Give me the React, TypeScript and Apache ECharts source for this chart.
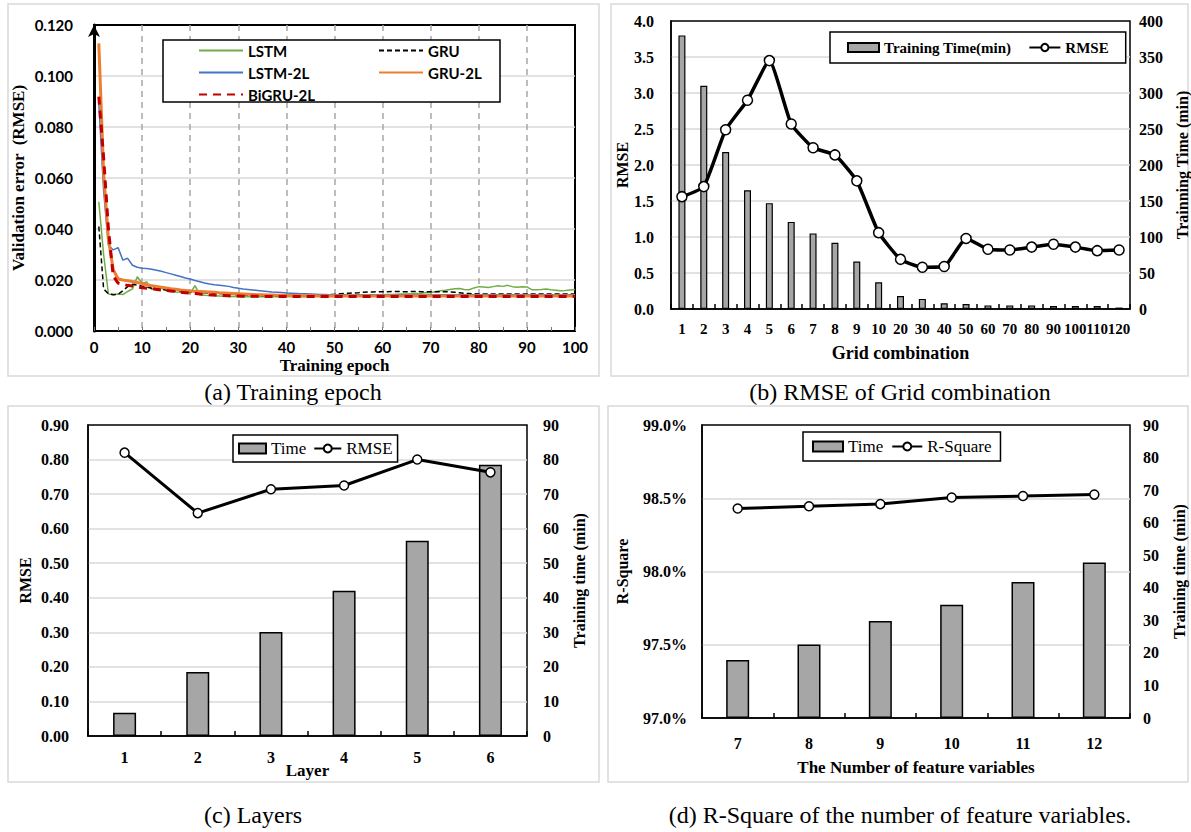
import React, { useEffect, useRef } from 'react';
import * as echarts from 'echarts';

// ---------- (a) Training epoch ----------
const epochLSTM = [
  0.0507, 0.0300, 0.0145, 0.0143, 0.0145, 0.0143, 0.0155, 0.0165, 0.0213, 0.0187,
  0.0192, 0.0162, 0.0176, 0.0168, 0.0158, 0.0155, 0.0153, 0.0152, 0.0150, 0.0148,
  0.0178, 0.0142, 0.0140, 0.0139, 0.0138, 0.0137, 0.0136, 0.0135, 0.0136, 0.0134,
  0.0135, 0.0134, 0.0135, 0.0134, 0.0134, 0.0135, 0.0134, 0.0134, 0.0135, 0.0134,
  0.0134, 0.0135, 0.0134, 0.0135, 0.0134, 0.0135, 0.0135, 0.0134, 0.0135, 0.0135,
  0.0136, 0.0137, 0.0137, 0.0138, 0.0139, 0.0140, 0.0140, 0.0141, 0.0142, 0.0142,
  0.0143, 0.0143, 0.0144, 0.0145, 0.0145, 0.0146, 0.0147, 0.0148, 0.0150, 0.0151,
  0.0154, 0.0158, 0.0160, 0.0163, 0.0166, 0.0167, 0.0163, 0.0162, 0.0169, 0.0174,
  0.0173, 0.0171, 0.0174, 0.0177, 0.0175, 0.0179, 0.0174, 0.0172, 0.0174, 0.0173,
  0.0162, 0.0162, 0.0163, 0.0165, 0.0162, 0.0160, 0.0158, 0.0159, 0.0161, 0.0163,
];
const epochGRU = [
  0.0410, 0.0165, 0.0146, 0.0142, 0.0144, 0.0158, 0.0174, 0.0183, 0.0180, 0.0176,
  0.0172, 0.0168, 0.0166, 0.0163, 0.0161, 0.0160, 0.0158, 0.0157, 0.0155, 0.0154,
  0.0153, 0.0151, 0.0150, 0.0149, 0.0148, 0.0147, 0.0146, 0.0145, 0.0144, 0.0142,
  0.0141, 0.0141, 0.0140, 0.0140, 0.0139, 0.0139, 0.0138, 0.0138, 0.0138, 0.0137,
  0.0137, 0.0137, 0.0138, 0.0138, 0.0139, 0.0140, 0.0141, 0.0142, 0.0143, 0.0144,
  0.0146, 0.0147, 0.0148, 0.0149, 0.0150, 0.0152, 0.0153, 0.0153, 0.0154, 0.0154,
  0.0154, 0.0155, 0.0155, 0.0154, 0.0154, 0.0155, 0.0155, 0.0154, 0.0154, 0.0154,
  0.0154, 0.0154, 0.0154, 0.0153, 0.0152, 0.0150, 0.0148, 0.0147, 0.0146, 0.0145,
  0.0145, 0.0145, 0.0145, 0.0145, 0.0145, 0.0145, 0.0145, 0.0145, 0.0145, 0.0145,
  0.0145, 0.0145, 0.0145, 0.0145, 0.0145, 0.0145, 0.0145, 0.0145, 0.0145, 0.0145,
];
const epochLSTM2L = [
  0.0894, 0.0550, 0.0337, 0.0318, 0.0327, 0.0278, 0.0285, 0.0258, 0.0250, 0.0246,
  0.0245, 0.0242, 0.0238, 0.0234, 0.0229, 0.0224, 0.0219, 0.0214, 0.0208, 0.0204,
  0.0198, 0.0193, 0.0188, 0.0184, 0.0181, 0.0179, 0.0177, 0.0175, 0.0171, 0.0168,
  0.0165, 0.0163, 0.0161, 0.0159, 0.0157, 0.0155, 0.0153, 0.0152, 0.0151, 0.0149,
  0.0148, 0.0147, 0.0146, 0.0146, 0.0145, 0.0144, 0.0143, 0.0143, 0.0142, 0.0142,
  0.0142, 0.0142, 0.0141, 0.0141, 0.0142, 0.0141, 0.0141, 0.0141, 0.0142, 0.0141,
  0.0141, 0.0141, 0.0141, 0.0142, 0.0141, 0.0141, 0.0141, 0.0141, 0.0141, 0.0142,
  0.0142, 0.0142, 0.0142, 0.0142, 0.0142, 0.0142, 0.0142, 0.0142, 0.0142, 0.0142,
  0.0142, 0.0142, 0.0142, 0.0142, 0.0142, 0.0142, 0.0142, 0.0142, 0.0142, 0.0142,
  0.0142, 0.0142, 0.0142, 0.0142, 0.0142, 0.0142, 0.0142, 0.0142, 0.0142, 0.0142,
];
const epochGRU2L = [
  0.1128, 0.0620, 0.0360, 0.0240, 0.0205, 0.0200, 0.0197, 0.0194, 0.0190, 0.0186,
  0.0181, 0.0178, 0.0175, 0.0172, 0.0169, 0.0166, 0.0164, 0.0161, 0.0159, 0.0157,
  0.0156, 0.0155, 0.0154, 0.0153, 0.0152, 0.0150, 0.0149, 0.0148, 0.0147, 0.0146,
  0.0145, 0.0144, 0.0143, 0.0142, 0.0142, 0.0141, 0.0141, 0.0140, 0.0140, 0.0139,
  0.0139, 0.0139, 0.0138, 0.0138, 0.0138, 0.0138, 0.0137, 0.0137, 0.0137, 0.0137,
  0.0137, 0.0137, 0.0137, 0.0137, 0.0137, 0.0137, 0.0137, 0.0137, 0.0137, 0.0137,
  0.0137, 0.0137, 0.0137, 0.0137, 0.0137, 0.0137, 0.0137, 0.0137, 0.0137, 0.0137,
  0.0137, 0.0137, 0.0137, 0.0137, 0.0137, 0.0137, 0.0137, 0.0137, 0.0137, 0.0137,
  0.0137, 0.0137, 0.0137, 0.0137, 0.0137, 0.0137, 0.0137, 0.0137, 0.0137, 0.0137,
  0.0137, 0.0137, 0.0137, 0.0137, 0.0137, 0.0137, 0.0137, 0.0137, 0.0137, 0.0137,
];
const epochBiGRU2L = [
  0.0919, 0.0680, 0.0400, 0.0215, 0.0188, 0.0183, 0.0179, 0.0176, 0.0173, 0.0170,
  0.0168, 0.0166, 0.0163, 0.0161, 0.0159, 0.0157, 0.0155, 0.0152, 0.0150, 0.0148,
  0.0147, 0.0145, 0.0144, 0.0142, 0.0141, 0.0140, 0.0139, 0.0138, 0.0137, 0.0137,
  0.0136, 0.0136, 0.0136, 0.0136, 0.0135, 0.0135, 0.0135, 0.0135, 0.0135, 0.0135,
  0.0135, 0.0135, 0.0135, 0.0135, 0.0135, 0.0135, 0.0135, 0.0135, 0.0135, 0.0135,
  0.0135, 0.0135, 0.0135, 0.0135, 0.0135, 0.0135, 0.0135, 0.0135, 0.0135, 0.0135,
  0.0135, 0.0135, 0.0135, 0.0135, 0.0135, 0.0135, 0.0135, 0.0135, 0.0135, 0.0135,
  0.0135, 0.0135, 0.0135, 0.0135, 0.0135, 0.0135, 0.0135, 0.0135, 0.0135, 0.0135,
  0.0135, 0.0135, 0.0135, 0.0135, 0.0135, 0.0135, 0.0135, 0.0135, 0.0135, 0.0135,
  0.0135, 0.0135, 0.0135, 0.0135, 0.0135, 0.0135, 0.0135, 0.0135, 0.0135, 0.0135,
];

// ---------- (b) Grid combination ----------
const gridCats = ['1', '2', '3', '4', '5', '6', '7', '8', '9', '10', '20', '30', '40', '50', '60', '70', '80', '90', '100', '110', '120'];
const gridTime = [380, 310, 218, 165, 147, 121, 105, 92, 66, 37, 18, 14, 8, 7, 5, 5, 5, 4, 4, 4, 2];
const gridRmse = [1.56, 1.70, 2.49, 2.90, 3.45, 2.57, 2.24, 2.14, 1.78, 1.06, 0.69, 0.58, 0.59, 0.98, 0.83, 0.82, 0.86, 0.90, 0.86, 0.81, 0.82];

// ---------- (c) Layers ----------
const layerCats = ['1', '2', '3', '4', '5', '6'];
const layerTime = [6.7, 18.5, 30.1, 42.0, 56.5, 78.5];
const layerRmse = [0.820, 0.645, 0.714, 0.725, 0.800, 0.763];

// ---------- (d) Feature variables ----------
const featCats = ['7', '8', '9', '10', '11', '12'];
const featTime = [17.8, 22.6, 29.8, 34.8, 41.8, 47.8];
const featRsq = [98.43, 98.445, 98.46, 98.505, 98.515, 98.525];

const SERIF = 'Liberation Serif';
const SANS = 'Lato';

const serifBold = (size: number) => ({ fontFamily: SERIF, fontWeight: 'bold' as const, fontSize: size, color: '#000' });

export default function App() {
  const ref = useRef<HTMLDivElement>(null);

  useEffect(() => {
    if (!ref.current) return;
    const chart = echarts.init(ref.current, undefined, { renderer: 'svg' });

    const toPairs = (arr: number[]) => arr.map((v, i) => [i + 1, v]);

    const catAxis = (gridIndex: number, data: string[], labelSize: number, margin: number, name: string, nameGap: number, nameSize: number) => ({
      type: 'category',
      gridIndex,
      data,
      axisLine: { show: true, lineStyle: { color: '#000', width: 1.5 } },
      axisTick: { show: true, inside: true, length: 5, alignWithLabel: false, lineStyle: { color: '#000', width: 1.5 } },
      axisLabel: { interval: 0, hideOverlap: false, margin, ...serifBold(labelSize) },
      splitLine: { show: false },
      name,
      nameLocation: 'middle',
      nameGap,
      nameMoveOverlap: false,
      nameTextStyle: serifBold(nameSize),
    });

    const leftAxis = (gridIndex: number, min: number, max: number, interval: number, fmt: (v: number) => string, margin: number, name: string, nameGap: number) => ({
      type: 'value',
      gridIndex,
      min,
      max,
      interval,
      position: 'left',
      axisLine: { show: true, lineStyle: { color: '#000', width: 1.5 } },
      axisTick: { show: false },
      axisLabel: { formatter: fmt, margin, ...serifBold(16) },
      splitLine: { show: true, showMinLine: false, showMaxLine: false, lineStyle: { color: '#d9d9d9', width: 1.5 } },
      name,
      nameLocation: 'middle',
      nameGap,
      nameRotate: 90,
      nameMoveOverlap: false,
      nameTextStyle: serifBold(16),
    });

    const rightAxis = (gridIndex: number, max: number, interval: number, margin: number, name: string, nameGap: number) => ({
      type: 'value',
      gridIndex,
      min: 0,
      max,
      interval,
      position: 'right',
      axisLine: { show: false },
      axisTick: { show: false },
      axisLabel: { margin, ...serifBold(16) },
      splitLine: { show: false },
      name,
      nameLocation: 'middle',
      nameGap,
      nameRotate: 90,
      nameMoveOverlap: false,
      nameTextStyle: serifBold(16),
    });

    const barStyle = { color: '#a6a6a6', borderColor: '#000', borderWidth: 1.2 };
    const dotLine = (width: number) => ({
      symbol: 'circle',
      lineStyle: { color: '#000', width },
      itemStyle: { color: '#fff', borderColor: '#000', borderWidth: 1.5 },
      z: 4,
    });

    const panelRect = (x: number, y: number, w: number, h: number) => ({
      type: 'rect',
      shape: { x, y, width: w, height: h },
      style: { fill: 'none', stroke: '#d9d9d9', lineWidth: 1.5 },
      z: 0,
      silent: true,
    });
    const caption = (x: number, y: number, text: string) => ({
      type: 'text',
      x,
      y,
      style: { text, fontFamily: SERIF, fontSize: 24, fill: '#000', textAlign: 'center', textVerticalAlign: 'middle' },
      silent: true,
    });

    const legendA = (data: string[], left: number) => ({
      data,
      orient: 'vertical',
      left,
      top: 43,
      padding: 0,
      itemWidth: 44,
      itemHeight: 14,
      itemGap: 7,
      selectedMode: false,
      itemStyle: { color: 'transparent', borderWidth: 0, opacity: 0 },
      textStyle: { fontFamily: SANS, fontWeight: 'bold', fontSize: 15, color: '#000' },
      z: 6,
    });

    const option: any = {
      animation: false,
      backgroundColor: '#fff',
      grid: [
        { left: 94, top: 25, width: 481, height: 306, show: true, borderColor: '#000', borderWidth: 2 },
        { left: 671, top: 21, width: 460, height: 288, show: true, borderColor: '#000', borderWidth: 1.5 },
        { left: 88, top: 425, width: 439, height: 311, show: true, borderColor: '#000', borderWidth: 1.5 },
        { left: 702, top: 425, width: 428, height: 293, show: true, borderColor: '#000', borderWidth: 1.5 },
      ],
      xAxis: [
        {
          type: 'value',
          gridIndex: 0,
          min: 0,
          max: 100,
          interval: 10,
          axisLine: { show: true, lineStyle: { color: '#000', width: 2 } },
          axisTick: { show: true, inside: true, length: 4, lineStyle: { color: '#777' } },
          minorTick: { show: true, splitNumber: 2, length: 4, lineStyle: { color: '#777' } },
          axisLabel: { margin: 8, fontFamily: SANS, fontWeight: 'bold', fontSize: 15, color: '#000' },
          splitLine: { show: true, showMinLine: false, showMaxLine: false, lineStyle: { color: '#a6a6a6', type: [6, 5], width: 1.5 } },
          name: 'Training epoch',
          nameLocation: 'middle',
          nameGap: 26,
          nameMoveOverlap: false,
          nameTextStyle: serifBold(17),
        },
        catAxis(1, gridCats, 15, 12, 'Grid combination', 35, 18),
        catAxis(2, layerCats, 16, 13, 'Layer', 26, 17),
        catAxis(3, featCats, 16, 17, 'The Number of feature variables', 41, 17),
      ],
      yAxis: [
        {
          type: 'value',
          gridIndex: 0,
          min: 0,
          max: 0.12,
          interval: 0.02,
          axisLine: { show: true, symbol: ['none', 'arrow'], symbolSize: [9, 12], lineStyle: { color: '#000', width: 3 } },
          axisTick: { show: false },
          axisLabel: { formatter: (v: number) => v.toFixed(3), margin: 21, fontFamily: SANS, fontWeight: 'bold', fontSize: 15, color: '#000' },
          splitLine: { show: true, showMinLine: false, showMaxLine: false, lineStyle: { color: '#d9d9d9', width: 1.5 } },
          name: 'Validation error  (RMSE)',
          nameLocation: 'middle',
          nameGap: 67,
          nameRotate: 90,
          nameMoveOverlap: false,
          nameTextStyle: serifBold(17),
        },
        leftAxis(1, 0, 4, 0.5, (v: number) => v.toFixed(1), 17, 'RMSE', 41),
        rightAxis(1, 400, 50, 9, 'Trainning Time (min)', 44),
        leftAxis(2, 0, 0.9, 0.1, (v: number) => v.toFixed(2), 19, 'RMSE', 55),
        rightAxis(2, 90, 10, 16, 'Training time (min)', 44),
        leftAxis(3, 97, 99, 0.5, (v: number) => v.toFixed(1) + '%', 15, 'R-Square', 72),
        rightAxis(3, 90, 10, 13, 'Training time (min)', 41),
      ],
      legend: [
        legendA(['LSTM', 'LSTM-2L', 'BiGRU-2L'], 198),
        legendA(['GRU', 'GRU-2L'], 378),
        {
          data: [{ name: 'b:Training Time(min)', icon: 'rect' }, 'b:RMSE'],
          formatter: (n: string) => n.slice(2),
          left: 830,
          top: 32,
          padding: [8, 17],
          borderColor: '#000',
          borderWidth: 1.5,
          backgroundColor: '#fff',
          itemWidth: 31,
          itemHeight: 9,
          itemGap: 17,
          selectedMode: false,
          textStyle: serifBold(15),
          z: 6,
        },
        {
          data: [{ name: 'c:Time', icon: 'rect' }, 'c:RMSE'],
          formatter: (n: string) => n.slice(2),
          left: 233,
          top: 435,
          padding: [5, 5],
          borderColor: '#000',
          borderWidth: 1.5,
          backgroundColor: '#fff',
          itemWidth: 27,
          itemHeight: 10,
          itemGap: 7,
          selectedMode: false,
          textStyle: { fontFamily: SERIF, fontSize: 17, color: '#000' },
          z: 6,
        },
        {
          data: [{ name: 'd:Time', icon: 'rect' }, 'd:R-Square'],
          formatter: (n: string) => n.slice(2),
          left: 803,
          top: 432,
          padding: [6, 9],
          borderColor: '#000',
          borderWidth: 1.5,
          backgroundColor: '#fff',
          itemWidth: 30,
          itemHeight: 10,
          itemGap: 8,
          selectedMode: false,
          textStyle: { fontFamily: SERIF, fontSize: 17, color: '#000' },
          z: 6,
        },
      ],
      series: [
        { type: 'line', name: 'LSTM', xAxisIndex: 0, yAxisIndex: 0, data: toPairs(epochLSTM), symbol: 'none', lineStyle: { color: '#70ad47', width: 1.5 }, itemStyle: { color: '#70ad47' } },
        { type: 'line', name: 'GRU', xAxisIndex: 0, yAxisIndex: 0, data: toPairs(epochGRU), symbol: 'none', lineStyle: { color: '#000', width: 1.5, type: [5, 3] }, itemStyle: { color: '#000' } },
        { type: 'line', name: 'LSTM-2L', xAxisIndex: 0, yAxisIndex: 0, data: toPairs(epochLSTM2L), symbol: 'none', lineStyle: { color: '#4472c4', width: 1.5 }, itemStyle: { color: '#4472c4' } },
        { type: 'line', name: 'GRU-2L', xAxisIndex: 0, yAxisIndex: 0, data: toPairs(epochGRU2L), symbol: 'none', lineStyle: { color: '#ed7d31', width: 3 }, itemStyle: { color: '#ed7d31' } },
        { type: 'line', name: 'BiGRU-2L', xAxisIndex: 0, yAxisIndex: 0, data: toPairs(epochBiGRU2L), symbol: 'none', lineStyle: { color: '#c00000', width: 3, type: [8, 6] }, itemStyle: { color: '#c00000' } },

        { type: 'bar', name: 'b:Training Time(min)', xAxisIndex: 1, yAxisIndex: 2, data: gridTime, barWidth: 7, itemStyle: barStyle },
        { type: 'line', name: 'b:RMSE', xAxisIndex: 1, yAxisIndex: 1, data: gridRmse, symbolSize: 10, smooth: 0.15, ...dotLine(3.5) },

        { type: 'bar', name: 'c:Time', xAxisIndex: 2, yAxisIndex: 4, data: layerTime, barWidth: 23, itemStyle: { ...barStyle, borderWidth: 1.5 } },
        { type: 'line', name: 'c:RMSE', xAxisIndex: 2, yAxisIndex: 3, data: layerRmse, symbolSize: 9, ...dotLine(3) },

        { type: 'bar', name: 'd:Time', xAxisIndex: 3, yAxisIndex: 6, data: featTime, barWidth: 23, itemStyle: { ...barStyle, borderWidth: 1.5 } },
        { type: 'line', name: 'd:R-Square', xAxisIndex: 3, yAxisIndex: 5, data: featRsq, symbolSize: 9, ...dotLine(3) },
      ],
      graphic: [
        panelRect(8, 4, 591, 372),
        panelRect(611, 4, 577, 372),
        panelRect(8, 406, 591, 376),
        panelRect(608, 406, 580, 376),
        {
          type: 'rect',
          shape: { x: 163, y: 40, width: 337, height: 62 },
          style: { fill: '#fff', stroke: '#000', lineWidth: 1.5 },
          z: 5,
          silent: true,
        },
        caption(293, 392, '(a) Training epoch'),
        caption(900, 392, '(b) RMSE of Grid combination'),
        caption(253, 815, '(c) Layers'),
        caption(900, 815, '(d) R-Square of the number of feature variables.'),
      ],
    };

    chart.setOption(option);
    return () => chart.dispose();
  }, []);

  return (
    <div
      ref={ref}
      style={{ position: 'absolute', left: 0, top: 0, width: 1191, height: 832, background: '#fff' }}
    />
  );
}
